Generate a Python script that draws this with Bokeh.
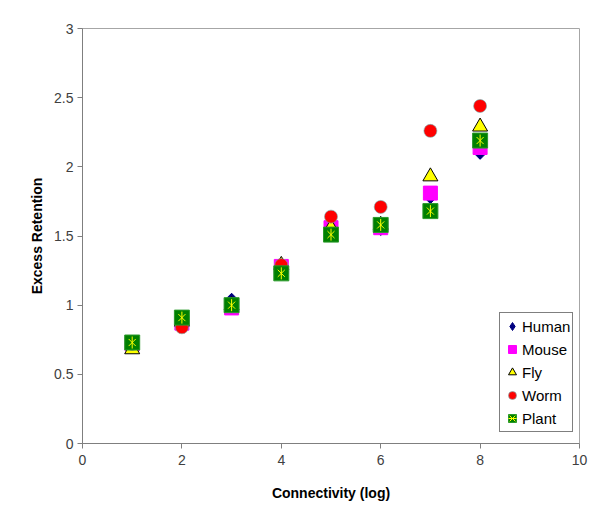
from bokeh.plotting import figure
from bokeh.models import Range1d, FixedTicker, Legend, LegendItem
from bokeh.embed import file_html
from bokeh.resources import INLINE
import math

# ---- data ----
connectivity = [1, 2, 3, 4, 5, 6, 7, 8]
human = [0.72, 0.86, 1.04, 1.28, 1.55, 1.55, 1.78, 2.10]
mouse = [0.72, 0.87, 0.98, 1.28, 1.56, 1.56, 1.81, 2.14]
fly = [0.68, 0.88, 1.00, 1.29, 1.56, 1.58, 1.93, 2.29]
worm = [0.72, 0.84, 1.00, 1.29, 1.64, 1.71, 2.26, 2.44]
plant = [0.73, 0.91, 1.00, 1.23, 1.51, 1.58, 1.68, 2.19]

x_ticks = [0, 2, 4, 6, 8, 10]
x_tick_labels = ["0", "2", "4", "6", "8", "10"]
y_ticks = [0, 0.5, 1, 1.5, 2, 2.5, 3]
y_tick_labels = ["0", "0.5", "1", "1.5", "2", "2.5", "3"]

FONT = "Liberation Sans"

p = figure(width=592, height=503, output_backend="svg", toolbar_location=None,
           x_range=Range1d(0, 10), y_range=Range1d(0, 3),
           min_border_left=82, min_border_right=13, min_border_top=28, min_border_bottom=59)
p.background_fill_color = "white"
p.border_fill_color = "white"
p.xgrid.visible = False
p.ygrid.visible = False
p.outline_line_color = "#a6a6a6"
p.outline_line_width = 1

for ax, ticks, labels in ((p.xaxis[0], x_ticks, x_tick_labels), (p.yaxis[0], y_ticks, y_tick_labels)):
    ax.ticker = FixedTicker(ticks=ticks, minor_ticks=[])
    ax.major_label_overrides = {t: l for t, l in zip(ticks, labels)}
    ax.axis_line_color = "#7f7f7f"
    ax.major_tick_line_color = "#7f7f7f"
    ax.major_tick_in = 0
    ax.major_tick_out = 5
    ax.minor_tick_line_color = None
    ax.major_label_text_font = FONT
    ax.major_label_text_font_size = "14px"
    ax.major_label_text_color = "#404040"
    ax.axis_label_text_font = FONT
    ax.axis_label_text_font_size = "14px"
    ax.axis_label_text_font_style = "bold"
    ax.axis_label_text_color = "black"

p.xaxis.axis_label = "Connectivity (log)"
p.yaxis.axis_label = "Excess Retention"
p.xaxis.major_label_standoff = 6
p.yaxis.major_label_standoff = 4
p.xaxis.axis_label_standoff = 17
p.yaxis.axis_label_standoff = 6

# Human: diamond (legend glyph) under a rotated square (chart glyph)
r_h_leg = p.scatter(connectivity, human, marker="diamond", size=12,
                    fill_color="#000080", line_color="#000080")
p.scatter(connectivity, human, marker="square", size=9, angle=math.pi / 4,
          fill_color="#000080", line_color="#000080")
r_m = p.scatter(connectivity, mouse, marker="square", size=14,
                fill_color="#ff00ff", line_color="#ff00ff")
r_f = p.scatter(connectivity, fly, marker="triangle", size=15,
                fill_color="#ffff00", line_color="black", line_width=1)
r_w = p.scatter(connectivity, worm, marker="circle", size=13,
                fill_color="#ff0000", line_color="#6fb0b0", line_width=1, line_alpha=0.6)
r_p1 = p.scatter(connectivity, plant, marker="square", size=15,
                 fill_color="#008000", line_color="#2a9a2a", line_width=1)
r_p2 = p.scatter(connectivity, plant, marker="x", size=10,
                 line_color="#ffff00", line_width=1)
r_p3 = p.scatter(connectivity, plant, marker="dash", size=12, angle=math.pi / 2,
                 line_color="#ffff00", line_width=1)

legend = Legend(items=[
    LegendItem(label="Human", renderers=[r_h_leg]),
    LegendItem(label="Mouse", renderers=[r_m]),
    LegendItem(label="Fly", renderers=[r_f]),
    LegendItem(label="Worm", renderers=[r_w]),
    LegendItem(label="Plant", renderers=[r_p1, r_p2, r_p3]),
], location=(417, 11))
legend.margin = 0
legend.padding = 2
legend.spacing = 1
legend.glyph_height = 22
legend.glyph_width = 20
legend.label_height = 22
legend.label_standoff = 0
legend.label_text_font = FONT
legend.label_text_font_size = "15px"
legend.label_text_color = "black"
legend.border_line_color = "black"
legend.border_line_width = 1
legend.background_fill_color = "white"
legend.background_fill_alpha = 1
p.add_layout(legend, "center")

open("out.html", "w").write(file_html(p, INLINE))
